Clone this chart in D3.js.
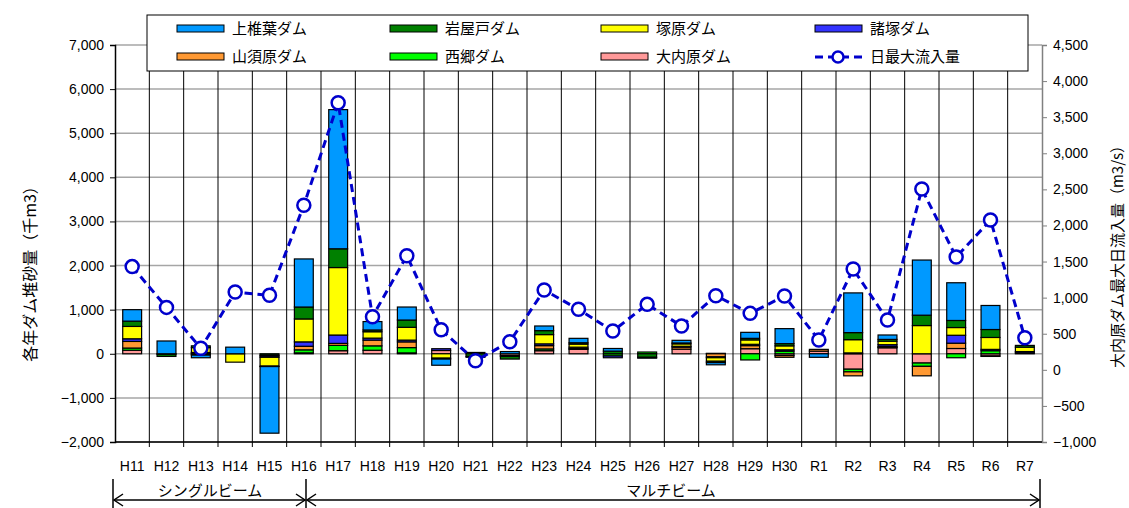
<!DOCTYPE html>
<html>
<head>
<meta charset="utf-8">
<script src="https://cdn.jsdelivr.net/npm/d3@7/dist/d3.min.js"></script>
<style>
  body { margin: 0; background: #fff; }
  text { font-family: "Liberation Sans", Arial, "Noto Sans CJK JP", sans-serif; }
  .jp { font-family: "Noto Sans CJK JP", sans-serif; }
</style>
</head>
<body>
<div id="chart"></div>
<script>
// categories (fiscal years)
var years = ["H11", "H12", "H13", "H14", "H15", "H16", "H17", "H18", "H19", "H20",
  "H21", "H22", "H23", "H24", "H25", "H26", "H27", "H28", "H29", "H30",
  "R1", "R2", "R3", "R4", "R5", "R6", "R7"];

// yearly sediment per dam (千m3)
var kamishiiba = [260, 290, -60, 150, -1510, 1090, 3155, 190, 295, -140, -20, 50, 105, 100, 60, -20, 60, -50, 136, 340, -80, 900, 100, 1250, 855, 545, 0];
var iwayado = [120, -50, 40, 0, -10, 270, 425, 40, 165, -20, -60, -60, 90, 30, 60, -80, 20, -30, 35, 50, 0, 160, 40, 235, 160, 180, 40];
var tsukabaru = [280, 0, 110, -190, -200, 520, 1530, 145, 290, -100, 0, 0, 210, 70, 0, 0, 55, -80, 100, 90, 0, 300, 80, 640, 175, 270, 100];
var morotsuka = [60, 0, -10, 0, -30, 100, 190, 45, 40, 40, 0, -20, 40, 0, -40, 0, 20, -20, 30, 30, 0, 20, 40, 0, 180, 30, 30];
var yamasubaru = [150, 0, 10, 0, -20, 80, 45, 130, 130, 0, 0, 0, 75, 30, 0, 0, 45, -70, 70, -40, 40, -90, 20, -215, 120, -10, 0];
var saigo = [50, -10, 20, 0, -30, 70, 120, 100, 120, 0, 30, 0, 40, 20, -50, 40, 0, 0, -140, 60, 0, -60, 10, -75, -90, 70, 0];
var ouchibaru = [80, 0, -20, 0, 0, 20, 70, 80, 20, 75, 0, -40, 70, 100, 0, 0, 105, 10, 115, -40, 60, -350, 136, -210, 120, -50, 20];

// 大内原ダム 日最大流入量 (m3/s)
var inflow = [1430, 865, 298, 1077, 1032, 2280, 3700, 736, 1580, 555, 125, 390, 1105, 838, 537, 907, 607, 1027, 782, 1022, 413, 1396, 690, 2504, 1562, 2075, 445];

// axis ticks
var leftTicks = [-2000, -1000, 0, 1000, 2000, 3000, 4000, 5000, 6000, 7000];
var rightTicks = [-1000, -500, 0, 500, 1000, 1500, 2000, 2500, 3000, 3500, 4000, 4500];

// series, bottom of the stack first
var series = [
  {key: "大内原ダム", values: ouchibaru, color: "#FF9999"},
  {key: "西郷ダム", values: saigo, color: "#00FF00"},
  {key: "山須原ダム", values: yamasubaru, color: "#FF9933"},
  {key: "諸塚ダム", values: morotsuka, color: "#3333FF"},
  {key: "塚原ダム", values: tsukabaru, color: "#FFFF00"},
  {key: "岩屋戸ダム", values: iwayado, color: "#008000"},
  {key: "上椎葉ダム", values: kamishiiba, color: "#0099FF"}
];

var width = 1129, height = 508;
var plotLeft = 115, plotRight = 1042, plotTop = 45, plotBottom = 442;

var svg = d3.select("#chart").append("svg")
  .attr("width", width).attr("height", height);

var x = d3.scaleBand().domain(years).range([plotLeft, plotRight]).paddingInner(0.45).paddingOuter(0.225);
var band = d3.scaleBand().domain(years).range([plotLeft, plotRight]);
var y = d3.scaleLinear().domain([-2000, 7000]).range([plotBottom, plotTop]);
var y2 = d3.scaleLinear().domain([-1000, 4500]).range([plotBottom, plotTop]);

// horizontal gridlines
svg.append("g").selectAll("line")
  .data(leftTicks).enter().append("line")
  .attr("x1", plotLeft).attr("x2", plotRight)
  .attr("y1", function (d) { return y(d); })
  .attr("y2", function (d) { return y(d); })
  .attr("stroke", "#a6a6a6").attr("stroke-width", 1.5);

// vertical category separators
var bounds = years.map(function (d) { return band(d); }).slice(1);
svg.append("g").selectAll("line")
  .data(bounds).enter().append("line")
  .attr("x1", function (d) { return d; })
  .attr("x2", function (d) { return d; })
  .attr("y1", plotTop).attr("y2", plotBottom + 5)
  .attr("stroke", "#000").attr("stroke-width", 1);

// stacked bars
var rows = years.map(function (yr, i) {
  var r = {year: yr};
  series.forEach(function (s) { r[s.key] = s.values[i]; });
  return r;
});
var stack = d3.stack()
  .keys(series.map(function (s) { return s.key; }))
  .offset(d3.stackOffsetDiverging);
var layers = stack(rows);

var barGroups = svg.append("g").selectAll("g")
  .data(layers).enter().append("g")
  .attr("fill", function (d, i) { return series[i].color; });

barGroups.selectAll("rect")
  .data(function (d) { return d.filter(function (p) { return p[1] !== p[0]; }); })
  .enter().append("rect")
  .attr("x", function (d) { return x(d.data.year); })
  .attr("width", x.bandwidth())
  .attr("y", function (d) { return y(Math.max(d[0], d[1])); })
  .attr("height", function (d) { return Math.abs(y(d[0]) - y(d[1])); })
  .attr("stroke", "#000").attr("stroke-width", 1.2);

// left axis
var leftAxis = svg.append("g")
  .attr("transform", "translate(" + plotLeft + ",0)")
  .call(d3.axisLeft(y).tickValues(leftTicks).tickFormat(d3.format(",")).tickSize(5).tickPadding(6));
leftAxis.select(".domain").attr("stroke-width", 1.5);
leftAxis.selectAll("text").attr("font-size", 14).attr("fill", "#000");

// right axis
var rightAxis = svg.append("g")
  .attr("transform", "translate(" + plotRight + ",0)")
  .call(d3.axisRight(y2).tickValues(rightTicks).tickFormat(d3.format(",")).tickSize(5).tickPadding(6));
rightAxis.select(".domain").attr("stroke", "#808080").attr("stroke-width", 1.5);
rightAxis.selectAll(".tick line").attr("stroke", "#808080");
rightAxis.selectAll("text").attr("font-size", 14).attr("fill", "#000");

// bottom axis line and category labels
svg.append("line")
  .attr("x1", plotLeft).attr("x2", plotRight).attr("y1", plotBottom).attr("y2", plotBottom)
  .attr("stroke", "#000").attr("stroke-width", 1.5);
svg.append("g").selectAll("text")
  .data(years).enter().append("text")
  .attr("x", function (d) { return band(d) + band.bandwidth() / 2; })
  .attr("y", 471)
  .attr("text-anchor", "middle")
  .attr("font-size", 14)
  .attr("font-family", "'Liberation Sans Narrow', 'DejaVu Sans Condensed', sans-serif")
  .text(function (d) { return d; });

// inflow line
var line = d3.line()
  .x(function (d, i) { return band(years[i]) + band.bandwidth() / 2; })
  .y(function (d) { return y2(d); });
svg.append("path")
  .datum(inflow)
  .attr("d", line)
  .attr("fill", "none")
  .attr("stroke", "#0000CC").attr("stroke-width", 3)
  .attr("stroke-dasharray", "8,5");
svg.append("g").selectAll("circle")
  .data(inflow).enter().append("circle")
  .attr("cx", function (d, i) { return band(years[i]) + band.bandwidth() / 2; })
  .attr("cy", function (d) { return y2(d); })
  .attr("r", 6.5)
  .attr("fill", "#fff").attr("stroke", "#0000CC").attr("stroke-width", 2.5);

// axis titles
svg.append("text")
  .attr("class", "jp")
  .attr("transform", "translate(36,270) rotate(-90)")
  .attr("text-anchor", "middle").attr("font-size", 16)
  .text("各年ダム堆砂量（千m3）");
svg.append("text")
  .attr("class", "jp")
  .attr("transform", "translate(1123,253) rotate(-90)")
  .attr("text-anchor", "middle").attr("font-size", 15)
  .text("大内原ダム最大日流入量（m3/s）");

// legend
var legend = svg.append("g");
legend.append("rect")
  .attr("x", 147).attr("y", 15).attr("width", 881).attr("height", 56)
  .attr("fill", "#fff").attr("stroke", "#000").attr("stroke-width", 1);
var legendItems = [
  series[6], series[5], series[4], series[3],
  series[2], series[1], series[0], {key: "日最大流入量", line: true}
];
var colX = [177, 390, 601, 815];
var rowY = [29, 57];
var items = legend.selectAll("g.item")
  .data(legendItems).enter().append("g")
  .attr("class", "item")
  .attr("transform", function (d, i) {
    return "translate(" + colX[i % 4] + "," + rowY[Math.floor(i / 4)] + ")";
  });
items.filter(function (d) { return !d.line; }).append("rect")
  .attr("x", 0).attr("y", -4).attr("width", 47).attr("height", 7)
  .attr("fill", function (d) { return d.color; })
  .attr("stroke", "#000").attr("stroke-width", 1);
var lineItem = items.filter(function (d) { return d.line; });
lineItem.append("line")
  .attr("x1", 0).attr("x2", 47).attr("y1", 0).attr("y2", 0)
  .attr("stroke", "#0000CC").attr("stroke-width", 3).attr("stroke-dasharray", "8,5");
lineItem.append("circle")
  .attr("cx", 23).attr("cy", 0).attr("r", 5.5)
  .attr("fill", "#fff").attr("stroke", "#0000CC").attr("stroke-width", 2.5);
items.append("text")
  .attr("class", "jp")
  .attr("x", 55).attr("y", 0).attr("dy", "0.36em")
  .attr("font-size", 15)
  .text(function (d) { return d.key; });

// period brackets
var brk = svg.append("g").attr("stroke", "#000").attr("stroke-width", 1.5).attr("fill", "none");
[113, 306, 1040].forEach(function (px) {
  brk.append("line").attr("x1", px).attr("x2", px).attr("y1", 479).attr("y2", 508);
});
function arrow(x1, x2, yy) {
  brk.append("line").attr("x1", x1).attr("x2", x2).attr("y1", yy).attr("y2", yy);
  brk.append("path").attr("d", "M" + (x1 + 9) + "," + (yy - 6) + "L" + x1 + "," + yy + "L" + (x1 + 9) + "," + (yy + 6));
  brk.append("path").attr("d", "M" + (x2 - 9) + "," + (yy - 6) + "L" + x2 + "," + yy + "L" + (x2 - 9) + "," + (yy + 6));
}
arrow(114, 305, 500);
arrow(307, 1039, 500);
svg.append("text").attr("class", "jp")
  .attr("x", 210).attr("y", 496).attr("text-anchor", "middle").attr("font-size", 15)
  .text("シングルビーム");
svg.append("text").attr("class", "jp")
  .attr("x", 671).attr("y", 496).attr("text-anchor", "middle").attr("font-size", 15)
  .text("マルチビーム");
</script>
</body>
</html>
